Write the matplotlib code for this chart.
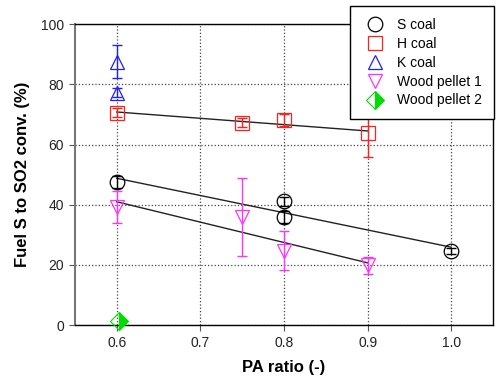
import numpy as np
import matplotlib
matplotlib.use('Agg')
import matplotlib.pyplot as plt

plt.rcParams['font.family'] = ['Liberation Sans', 'DejaVu Sans']

# S coal
s_x = [0.6, 0.8, 0.8, 1.0]
s_y = [47.6, 41.2, 35.9, 24.7]
s_err = [2.0, 1.5, 2.0, 1.0]
# H coal
h_x = [0.6, 0.75, 0.8, 0.9]
h_y = [70.5, 67.3, 68.1, 63.7]
h_err = [1.5, 1.5, 2.0, 8.0]
# K coal
k_x = [0.6, 0.6]
k_y = [87.5, 77.2]
k_err = [5.5, 1.5]
# Wood pellet 1
w1_x = [0.6, 0.75, 0.8, 0.9]
w1_y = [39.3, 36.0, 24.8, 19.9]
w1_err = [5.3, 13.0, 6.5, 2.9]
# Wood pellet 2
w2_x = [0.603]
w2_y = [1.3]

xticks = [0.6, 0.7, 0.8, 0.9, 1.0]
yticks = [0, 20, 40, 60, 80, 100]

fig = plt.figure(figsize=(4.96, 3.83), dpi=100)
ax = fig.add_axes([0.151, 0.151, 0.843, 0.786])

ax.set_xlim(0.55, 1.05)
ax.set_ylim(0, 100)
ax.set_xticks(xticks)
ax.set_xticklabels(['%.1f' % v for v in xticks])
ax.set_yticks(yticks)
ax.grid(True, linestyle=':', color='#444444', linewidth=0.9)
ax.tick_params(labelsize=10, direction='out', length=4.5, color='#555555',
               labelcolor='#222222')
for sp in ax.spines.values():
    sp.set_linewidth(1.0)
ax.spines['left'].set_color('#777777')
ax.spines['left'].set_linewidth(1.5)

# fit lines
for xs, ys in [(s_x, s_y), (h_x, h_y), (w1_x, w1_y)]:
    p = np.polyfit(xs, ys, 1)
    xl = np.array([min(xs), max(xs)])
    ax.plot(xl, np.polyval(p, xl), color='#222222', lw=1.0, zorder=2)

series = [
    (s_x, s_y, s_err, 'o', 10.5, 'black', 'S coal'),
    (h_x, h_y, h_err, 's', 9.5, '#ff2020', 'H coal'),
    (k_x, k_y, k_err, '^', 10.5, '#2020ff', 'K coal'),
    (w1_x, w1_y, w1_err, 'v', 10.5, '#ff33ff', 'Wood pellet 1'),
]
handles = []
for xs, ys, es, m, ms, c, lab in series:
    ax.errorbar(xs, ys, yerr=es, fmt='none', ecolor=c, elinewidth=1.0,
                capsize=3.5, capthick=1.0, zorder=3)
    h, = ax.plot(xs, ys, linestyle='none', marker=m, ms=ms, mfc='none',
                 mec=c, mew=0.9, label=lab, zorder=4)
    handles.append(h)

h, = ax.plot(w2_x, w2_y, linestyle='none', marker='D', ms=9.5,
             fillstyle='right', mfc='#00dd00', mfcalt='none', mec='#00dd00',
             mew=0.8, label='Wood pellet 2', zorder=4, clip_on=False)
handles.append(h)

ax.set_xlabel('PA ratio (-)', fontsize=12, fontweight='bold', labelpad=7)
ax.set_ylabel('Fuel S to SO2 conv. (%)', fontsize=12, fontweight='bold', labelpad=8)

leg = fig.legend(handles=handles, loc='upper right',
                 bbox_to_anchor=(0.996, 0.984), borderaxespad=0, fontsize=10,
                 frameon=True, fancybox=False, edgecolor='black',
                 framealpha=1, labelspacing=0.35, handletextpad=0.72,
                 borderpad=0.85, handlelength=1.8)
leg.get_frame().set_linewidth(1.0)

fig.savefig('out.png', dpi=100)
